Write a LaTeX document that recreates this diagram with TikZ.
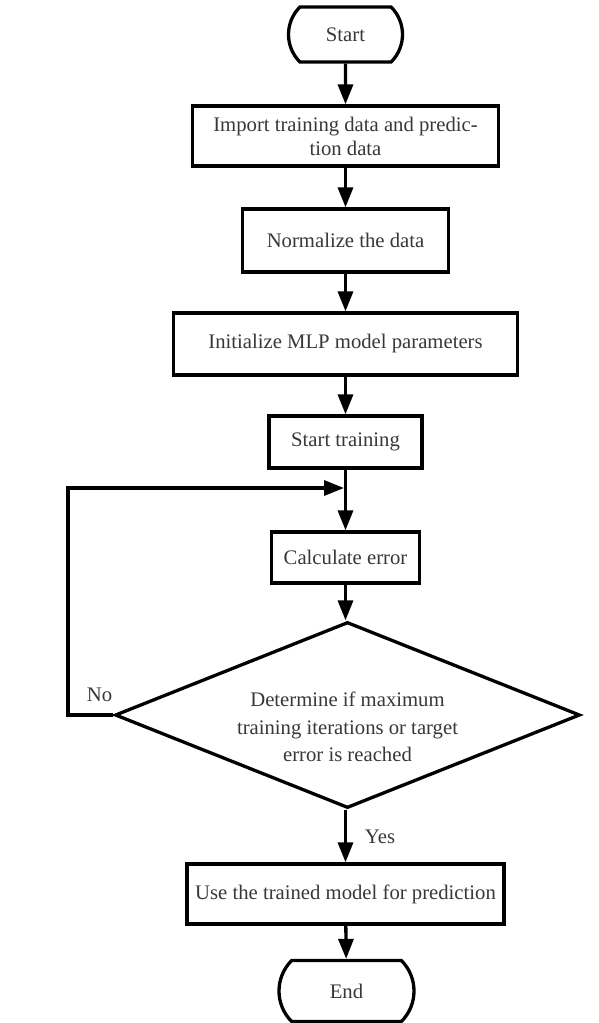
\documentclass[tikz,border=0pt]{standalone}
\usepackage{fontspec}
\setmainfont{Liberation Serif}
\usetikzlibrary{arrows.meta,shapes.geometric,shapes.misc}

\begin{document}
\begin{tikzpicture}[x=1pt,y=-1pt,
  line width=3.3pt,
  every node/.style={text=black!78, font=\fontsize{20.7}{24}\selectfont},
  procbox/.style={draw=black, rectangle, inner sep=0pt, align=center},
  terminal/.style={draw=black, rounded rectangle, rounded rectangle arc length=90, inner sep=0pt},
  decision/.style={draw=black, diamond, aspect=2.5, inner sep=0pt},
  dectext/.style={align=center, inner sep=0pt, font=\fontsize{20.7}{27.5}\selectfont},
  flow/.style={-{Triangle[length=20pt,width=15pt]}},
  lbl/.style={anchor=base, inner sep=0pt}
]
  \useasboundingbox[fill=white] (0,0) rectangle (599,1023);

  % main column of steps
  \node[terminal, minimum width=114pt, minimum height=55pt] (start) at (345.5,34.5) {Start};
  \node[procbox, minimum width=306pt, minimum height=60pt] (import) at (345.5,136)
    {Import training data and predic-\\tion data};
  \node[procbox, minimum width=206pt, minimum height=63pt] (norm) at (345.5,240.5)
    {Normalize the data};
  \node[procbox, minimum width=344pt, minimum height=62pt] (init) at (345.5,344)
    {Initialize MLP model parameters};
  \node[procbox, minimum width=153pt, minimum height=52pt] (train) at (345.5,442)
    {Start training};
  \node[procbox, minimum width=148pt, minimum height=51pt] (calc) at (345.5,557.5)
    {Calculate error};
  \node[decision, minimum width=465pt, minimum height=186pt] (check) at (347.5,715) {};
  \node[dectext] (checktext) at (347.5,727)
    {Determine if maximum\\training iterations or target\\error is reached};
  \node[procbox, minimum width=317pt, minimum height=60pt] (use) at (345.5,894)
    {Use the trained model for prediction};
  \node[terminal, minimum width=135pt, minimum height=61pt] (end) at (346.5,991) {End};

  % loop-back junction and left turning point
  \coordinate (join) at (345.5,488);
  \coordinate (loopleft) at (68,715);

  % connectors
  \draw[flow] (start) -- (import);
  \draw[flow] (import) -- (norm);
  \draw[flow] (norm) -- (init);
  \draw[flow] (init) -- (train);
  \draw[flow] (train) -- (calc);
  \draw[flow] (calc) -- (check.north -| calc);
  \draw[flow] (check.south -| use) -- (use);
  \draw[flow] (use) -- (end);
  \draw[flow, shorten >=1.5pt] (check.west) -- (loopleft) |- (join);

  % branch labels
  \node[lbl] (no) at (99.5,701) {No};
  \node[lbl] (yes) at (380,843) {Yes};
\end{tikzpicture}
\end{document}
